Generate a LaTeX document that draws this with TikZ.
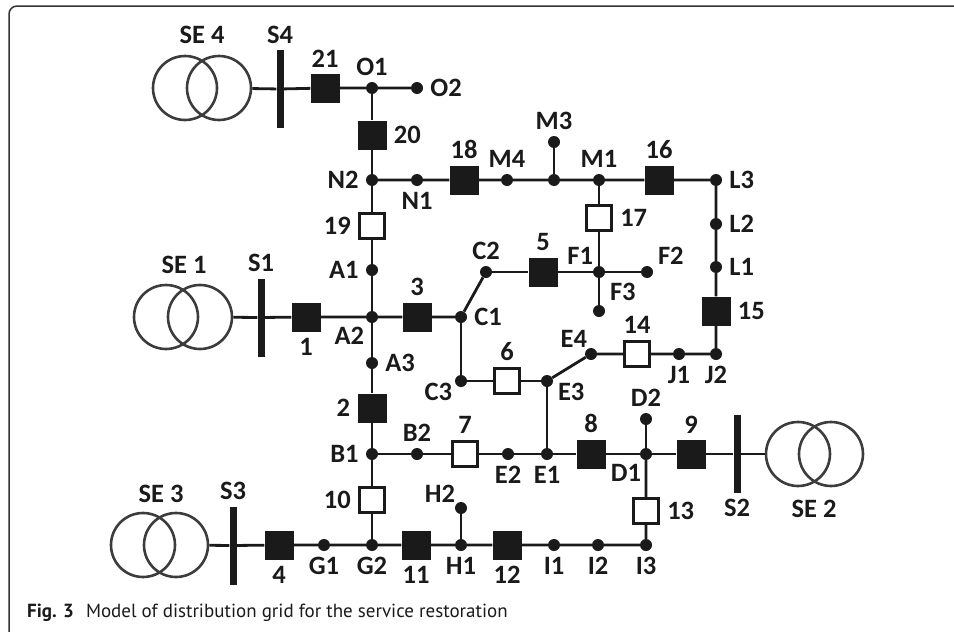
\documentclass[tikz,border=0pt]{standalone}
\usepackage{fontspec}
\setmainfont{Carlito}
\newfontfamily\capfont{PT Sans}
\usetikzlibrary{positioning}

\definecolor{ink}{HTML}{1A1A1A}
\definecolor{coilgray}{HTML}{3C3C3C}
\definecolor{rim}{HTML}{333333}

\begin{document}
\begin{tikzpicture}[x=1pt,y=-1pt,
  every label/.style={font=\fontsize{26.5}{28}\selectfont\bfseries, text=ink, inner xsep=5pt, inner ysep=4pt},
  label distance=2pt,
  lbl/.style={font=\fontsize{26.5}{28}\selectfont\bfseries, text=ink, inner sep=0pt},
  dot/.style={circle, fill=ink, inner sep=0pt, minimum size=12pt},
  swon/.style={rectangle, fill=ink, inner sep=0pt, minimum size=29pt},
  swoff/.style={rectangle, draw=ink, fill=white, line width=3.2pt, inner sep=0pt, minimum size=25pt},
  bus/.style={rectangle, fill=ink, inner sep=0pt, minimum width=7pt, minimum height=78pt},
  winding/.style={circle, draw=coilgray, line width=2.6pt, inner sep=0pt, minimum size=64pt},
  line/.style={draw=ink, line width=2.8pt}]

  \useasboundingbox (0,0) rectangle (954,632);
  \draw[rim, line width=1.5pt, rounded corners=8pt] (960,6) -- (9,6) -- (9,640);

  % substations and bus bars
  \node[winding] (se4a) at (185,88) {};
  \node[winding] (se4b) at (219,88) {};
  \node[lbl] (se4t) at (202,35) {SE 4};
  \node[bus, label=above:S4] (S4) at (280,89) {};

  \node[winding] (se1a) at (166,317) {};
  \node[winding] (se1b) at (200,317) {};
  \node[lbl] (se1t) at (184,265) {SE 1};
  \node[bus, label=above:S1] (S1) at (261,317.5) {};

  \node[winding] (se3a) at (143,545) {};
  \node[winding] (se3b) at (176,545) {};
  \node[lbl] (se3t) at (161,493.5) {SE 3};
  \node[bus, label=above:S3] (S3) at (233,545.5) {};

  \node[winding] (se2a) at (798,454) {};
  \node[winding] (se2b) at (831,454) {};
  \node[lbl] (se2t) at (814,508.5) {SE 2};
  \node[bus, label=below:S2] (S2) at (737,454) {};

  % buses
  \node[dot, label=above:O1] (O1) at (372,88) {};
  \node[dot, label=right:O2] (O2) at (417,88) {};
  \node[dot, label=left:N2] (N2) at (372,180) {};
  \node[dot, label=below:N1] (N1) at (417,180) {};
  \node[dot, label=above:M4] (M4) at (507,180) {};
  \node[dot] (mj) at (554,180) {};
  \node[dot, label=above:M3] (M3) at (554,142) {};
  \node[dot, label=above:M1] (M1) at (599,180) {};
  \node[dot, label=right:L3] (L3) at (716,180) {};
  \node[dot, label=right:L2] (L2) at (716,224) {};
  \node[dot, label=right:L1] (L1) at (716,267) {};
  \node[dot, label=below:J2] (J2) at (716,354) {};
  \node[dot, label=below:J1] (J1) at (679,354) {};
  \node[dot, label={[xshift=7pt,yshift=-3.5pt]above left:E4}] (E4) at (591,354) {};
  \node[dot, label={[yshift=7.5pt]below right:E3}] (E3) at (547,381) {};
  \node[dot, label={[xshift=2pt,yshift=7.5pt]below left:C3}] (C3) at (461,381) {};
  \node[dot, label=right:C1] (C1) at (461,317) {};
  \node[dot, label=above:C2] (C2) at (486,272) {};
  \node[dot, label={[xshift=5pt,yshift=-2pt]above left:F1}] (F1) at (599,272) {};
  \node[dot, label={[yshift=-2.5pt]above right:F2}] (F2) at (647,272) {};
  \node[dot, label=above right:F3] (F3) at (599,311) {};
  \node[dot, label=left:A1] (A1) at (372,270) {};
  \node[dot, label={[xshift=3pt]below left:A2}] (A2) at (372,317) {};
  \node[dot, label=right:A3] (A3) at (372,363) {};
  \node[dot, label=left:B1] (B1) at (372,454) {};
  \node[dot, label=above:B2] (B2) at (417,454) {};
  \node[dot, label=below:E2] (E2) at (508,454) {};
  \node[dot, label=below:E1] (E1) at (547,454) {};
  \node[dot, label={[xshift=6pt]below left:D1}] (D1) at (646,454) {};
  \node[dot, label=above:D2] (D2) at (646,419) {};
  \node[dot, label=below:G1] (G1) at (324,545) {};
  \node[dot, label=below:G2] (G2) at (372,545) {};
  \node[dot, label=below:H1] (H1) at (461,545) {};
  \node[dot, label={[xshift=5pt,yshift=-4.5pt]above left:H2}] (H2) at (461,508) {};
  \node[dot, label=below:I1] (I1) at (554,545) {};
  \node[dot, label=below:I2] (I2) at (598,545) {};
  \node[dot, label=below:I3] (I3) at (646,545) {};

  % switches
  \node[swon, label=above:21] (sw21) at (325,88) {};
  \node[swon, label=right:20] (sw20) at (372,135) {};
  \node[swoff, label=left:19] (sw19) at (372,226) {};
  \node[swon, label=above:18] (sw18) at (464,180) {};
  \node[swon, label=above:16] (sw16) at (659,180) {};
  \node[swoff, label=right:17] (sw17) at (599,218) {};
  \node[swon, label=above:5] (sw5) at (543,272) {};
  \node[swon, label=above:3] (sw3) at (417,317) {};
  \node[swon, label=below:1] (sw1) at (306,317) {};
  \node[swon, label=left:2] (sw2) at (372,408) {};
  \node[swoff, label=above:6] (sw6) at (507,381) {};
  \node[swoff, label=above:14] (sw14) at (637,354) {};
  \node[swon, label=right:15] (sw15) at (716,311) {};
  \node[swoff, label=above:7] (sw7) at (465,454) {};
  \node[swon, label=above:8] (sw8) at (591,454) {};
  \node[swon, label=above:9] (sw9) at (691,454) {};
  \node[swoff, label=left:10] (sw10) at (372,500) {};
  \node[swoff, label=right:13] (sw13) at (646,511) {};
  \node[swon, label=below:4] (sw4) at (279,545) {};
  \node[swon, label=below:11] (sw11) at (416,545) {};
  \node[swon, label=below:12] (sw12) at (507,545) {};

  % lines
  \draw[line] (se4b) -- (S4) -- (sw21) -- (O1) -- (O2);
  \draw[line] (O1) -- (sw20) -- (N2) -- (sw19) -- (A1) -- (A2) -- (A3) -- (sw2) -- (B1) -- (sw10) -- (G2);
  \draw[line] (N2) -- (N1) -- (sw18) -- (M4) -- (mj) -- (M1) -- (sw16) -- (L3) -- (L2) -- (L1) -- (sw15) -- (J2) -- (J1) -- (sw14) -- (E4) -- (E3);
  \draw[line] (mj) -- (M3);
  \draw[line] (M1) -- (sw17) -- (F1) -- (F3);
  \draw[line] (C2) -- (sw5) -- (F1) -- (F2);
  \draw[line] (se1b) -- (S1) -- (sw1) -- (A2) -- (sw3) -- (C1) -- (C2);
  \draw[line] (C1) -- (C3) -- (sw6) -- (E3) -- (E1);
  \draw[line] (B1) -- (B2) -- (sw7) -- (E2) -- (E1) -- (sw8) -- (D1) -- (sw9) -- (S2) -- (se2a);
  \draw[line] (D1) -- (D2);
  \draw[line] (D1) -- (sw13) -- (I3) -- (I2) -- (I1) -- (sw12) -- (H1) -- (sw11) -- (G2) -- (G1) -- (sw4) -- (S3) -- (se3b);
  \draw[line] (H1) -- (H2);

  \node[anchor=base west, inner sep=0pt, text=ink, font=\capfont\fontsize{19}{22}\selectfont] (cap) at (27,617)
    {\textbf{Fig. 3}\hspace{12pt}Model of distribution grid for the service restoration};
\end{tikzpicture}
\end{document}
